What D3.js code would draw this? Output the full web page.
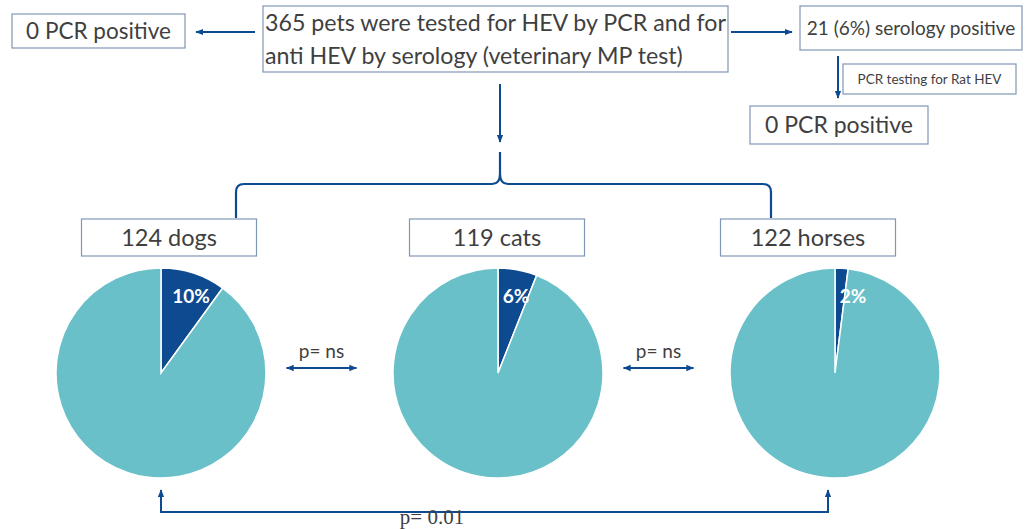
<!DOCTYPE html>
<html>
<head>
<meta charset="utf-8">
<script src="https://cdn.jsdelivr.net/npm/d3@7.9.0/dist/d3.min.js"></script>
<style>
  body { margin: 0; background: #fff; }
  svg { display: block; }
  text { font-family: Lato, "Open Sans", sans-serif; fill: #3f3f3f; }
</style>
</head>
<body>
<svg id="chart" width="1027" height="529"></svg>
<script>
// data
const animals = ["124 dogs", "119 cats", "122 horses"];
const positivePct = [10, 6, 2];
const pairTests = ["p= ns", "p= ns"];
const farTest = "p= 0.01";

const teal = "#69c0c8";
const navy = "#0d4a8f";
const boxStroke = "#7f97b5";

const svg = d3.select("#chart");

// arrow markers
const defs = svg.append("defs");
defs.append("marker")
  .attr("id", "arr")
  .attr("viewBox", "0 0 10 10")
  .attr("refX", 9).attr("refY", 5)
  .attr("markerWidth", 4).attr("markerHeight", 4)
  .attr("orient", "auto-start-reverse")
  .append("path")
  .attr("d", "M0,1 L10,5 L0,9 Z")
  .attr("fill", navy);

function box(x, y, w, h, lines, size, left) {
  svg.append("rect")
    .attr("x", x).attr("y", y).attr("width", w).attr("height", h)
    .attr("fill", "#fff").attr("stroke", boxStroke).attr("stroke-width", 1.2);
  const lh = h / lines.length;
  lines.forEach((t, i) => {
    svg.append("text")
      .attr("x", left ? x + 2 : x + w / 2)
      .attr("y", y + lh * i + lh / 2)
      .attr("dy", "0.35em")
      .attr("text-anchor", left ? "start" : "middle")
      .attr("font-size", size)
      .text(t);
  });
}

function arrow(x1, y1, x2, y2, both) {
  const l = svg.append("line")
    .attr("x1", x1).attr("y1", y1).attr("x2", x2).attr("y2", y2)
    .attr("stroke", navy).attr("stroke-width", 2)
    .attr("marker-end", "url(#arr)");
  if (both) l.attr("marker-start", "url(#arr)");
}

// top flow
box(263, 6, 465, 66, ["365 pets were tested for HEV by PCR and for",
  "anti HEV by serology (veterinary MP test)"], 23.2, true);
box(12, 14, 173, 34, ["0 PCR positive"], 22.5);
box(800, 6, 222, 44, ["21 (6%) serology positive"], 19);
box(843, 64, 173, 30, ["PCR testing for Rat HEV"], 13.5);
box(750, 106, 178, 38, ["0 PCR positive"], 23);

arrow(255, 32, 196, 32);
arrow(731, 32, 792, 32);
arrow(838, 56, 838, 98);
arrow(500, 84, 500, 142);

// pies
const x = d3.scalePoint().domain(animals).range([161, 835]);
const cy = 373;
const r = 105;

// brace above the boxes
const bx0 = x(animals[0]) + 75, bx1 = x(animals[2]) - 64, by = 184;
svg.append("path")
  .attr("d", `M${bx0},218 L${bx0},${by + 8} Q${bx0},${by} ${bx0 + 8},${by}
    L${500 - 8},${by} Q500,${by} 500,${by - 10} L500,152
    M500,${by - 10} Q500,${by} ${500 + 8},${by}
    L${bx1 - 8},${by} Q${bx1},${by} ${bx1},${by + 8} L${bx1},218`)
  .attr("fill", "none").attr("stroke", navy).attr("stroke-width", 2.2);

const boxW = 175, boxH = 37;
animals.forEach((a, i) => {
  const cx = x(a) + [8, -1, -27][i];
  box(cx - boxW / 2, 219, boxW, boxH, [a], 23.5);
});

const pie = d3.pie().sort(null).value(d => d);
const arc = d3.arc().innerRadius(0).outerRadius(r);

animals.forEach((a, i) => {
  const g = svg.append("g").attr("transform", `translate(${x(a)},${cy})`);
  const arcs = pie([positivePct[i], 100 - positivePct[i]]);
  g.selectAll("path").data(arcs).join("path")
    .attr("d", arc)
    .attr("fill", (d, j) => j === 0 ? navy : teal)
    .attr("stroke", "#fff").attr("stroke-width", 1.5);
  const lx = [30, 18, 18][i], ly = -77;
  g.append("text")
    .attr("x", lx).attr("y", ly)
    .attr("text-anchor", "middle")
    .attr("dy", "0.35em")
    .attr("font-size", 19)
    .attr("font-weight", "bold")
    .style("fill", "#fff")
    .text(positivePct[i] + "%");
});

// comparisons between neighbours
pairTests.forEach((t, i) => {
  const mx = (x(animals[i]) + x(animals[i + 1])) / 2 - 8;
  svg.append("text")
    .attr("x", mx).attr("y", 358)
    .attr("text-anchor", "middle")
    .attr("font-size", 19)
    .text(t);
  arrow(mx - 35, 368, mx + 35, 368, true);
});

// dogs vs horses
const fx0 = x(animals[0]), fx1 = x(animals[2]) - 7;
svg.append("path")
  .attr("d", `M${fx0},490 L${fx0},512 L${fx1},512 L${fx1},490`)
  .attr("fill", "none").attr("stroke", navy).attr("stroke-width", 2)
  .attr("marker-end", "url(#arr)").attr("marker-start", "url(#arr)");
svg.append("text")
  .attr("x", 432).attr("y", 524)
  .attr("text-anchor", "middle")
  .attr("font-size", 21)
  .style("font-family", "'Liberation Serif', serif")
  .text(farTest);
</script>
</body>
</html>
